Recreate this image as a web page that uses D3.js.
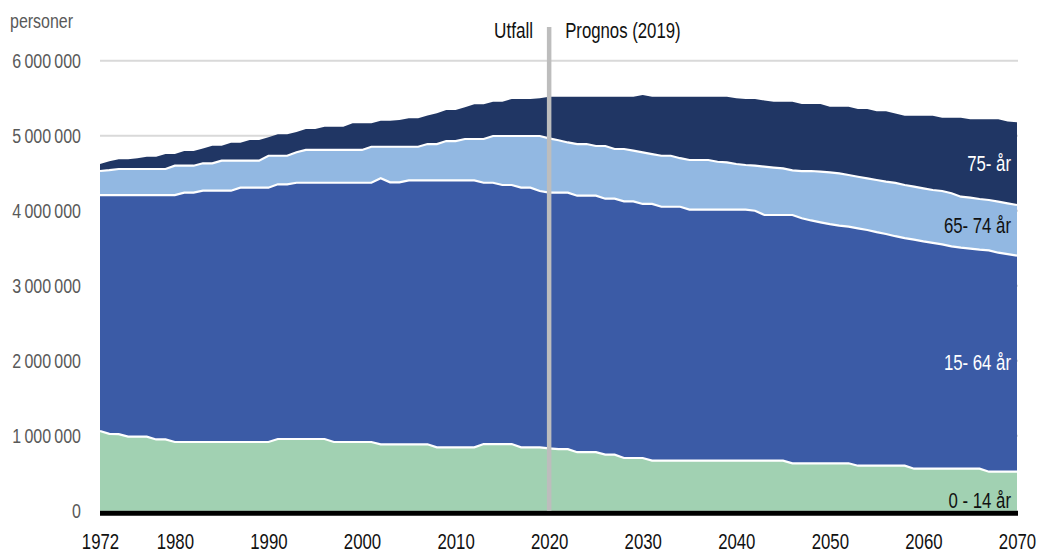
<!DOCTYPE html>
<html>
<head>
<meta charset="utf-8">
<script src="https://cdn.jsdelivr.net/npm/d3@7/dist/d3.min.js"></script>
<style>
  html, body { margin: 0; padding: 0; background: #ffffff; }
  svg { display: block; }
  text { font-family: "Liberation Sans", Arial, sans-serif; }
</style>
</head>
<body>
<svg id="chart" width="1042" height="553"></svg>
<script>
// Population by age group, 1972–2070 (thousands of persons)
const years = d3.range(1972, 2071);

const age0_14 = [
  1063, 1025, 1020, 987, 987, 987, 950, 950, 916, 916,
  916, 916, 916, 916, 916, 916, 916, 916, 916, 956,
  956, 956, 956, 956, 956, 916, 916, 916, 916, 916,
  885, 885, 885, 885, 885, 885, 845, 845, 845, 845,
  845, 889, 889, 889, 889, 845, 845, 845, 830, 820,
  820, 780, 780, 780, 747, 747, 703, 703, 703, 667,
  667, 667, 667, 667, 667, 667, 667, 667, 667, 667,
  667, 667, 667, 667, 632, 632, 632, 632, 632, 632,
  632, 600, 600, 600, 600, 600, 600, 560, 560, 560,
  560, 560, 560, 560, 560, 520, 520, 520, 520
];

const age15_64 = [
  3146, 3184, 3189, 3222, 3222, 3222, 3259, 3259, 3293, 3324,
  3324, 3351, 3351, 3351, 3351, 3391, 3391, 3391, 3391, 3396,
  3396, 3417, 3417, 3417, 3417, 3457, 3457, 3457, 3457, 3457,
  3547, 3493, 3493, 3520, 3520, 3520, 3560, 3560, 3560, 3560,
  3560, 3484, 3484, 3454, 3454, 3462, 3462, 3418, 3410, 3420,
  3420, 3420, 3420, 3420, 3413, 3413, 3422, 3422, 3387, 3423,
  3386, 3386, 3386, 3348, 3348, 3348, 3348, 3348, 3348, 3348,
  3333, 3276, 3276, 3276, 3311, 3268, 3238, 3213, 3188, 3168,
  3155, 3165, 3143, 3115, 3090, 3060, 3035, 3055, 3030, 3010,
  2990, 2965, 2947, 2935, 2920, 2950, 2920, 2900, 2880
];

const age65_74 = [
  320, 331, 347, 347, 347, 347, 347, 347, 391, 360,
  360, 365, 365, 400, 400, 360, 360, 360, 426, 381,
  381, 407, 437, 437, 437, 437, 437, 437, 437, 480,
  421, 475, 475, 448, 448, 484, 484, 524, 524, 551,
  551, 583, 623, 653, 653, 689, 689, 733, 725, 700,
  670, 689, 689, 663, 703, 663, 698, 675, 688, 665,
  680, 680, 647, 661, 661, 661, 638, 630, 608, 594,
  600, 644, 632, 622, 595, 629, 659, 675, 691, 698,
  689, 688, 689, 694, 697, 710, 708, 705, 708, 706,
  713, 707, 680, 680, 676, 673, 680, 678, 676
];

const age75plus = [
  94, 120, 129, 129, 144, 164, 164, 200, 156, 196,
  196, 198, 235, 200, 240, 240, 276, 276, 247, 285,
  285, 270, 279, 279, 310, 310, 310, 355, 355, 312,
  347, 347, 356, 379, 379, 381, 411, 414, 414, 424,
  462, 462, 457, 457, 493, 493, 493, 504, 555, 580,
  610, 631, 631, 657, 657, 697, 697, 720, 765, 765,
  787, 787, 820, 844, 844, 844, 867, 875, 877, 880,
  889, 883, 878, 888, 915, 894, 894, 903, 876, 889,
  911, 903, 924, 916, 938, 925, 924, 947, 969, 991,
  977, 1008, 1053, 1043, 1062, 1075, 1098, 1092, 1102
];

const seriesKeys = ["0-14", "15-64", "65-74", "75+"];
const seriesColors = ["#a1d1b2", "#3b5ba6", "#92b8e2", "#203664"];
const seriesLabels = ["0 - 14 år", "15- 64 år", "65- 74 år", "75- år"];
const labelColors = ["#111111", "#ffffff", "#111111", "#ffffff"];
const labelYear = 2070;

const yTicks = [0, 1000000, 2000000, 3000000, 4000000, 5000000, 6000000];
const xTicks = [1972, 1980, 1990, 2000, 2010, 2020, 2030, 2040, 2050, 2060, 2070];
const splitYear = 2020;

// Horizontal squeeze giving the narrow typeface look
const SQUEEZE = 0.78;

const rows = years.map((yr, i) => ({
  year: yr,
  "0-14": age0_14[i] * 1000,
  "15-64": age15_64[i] * 1000,
  "65-74": age65_74[i] * 1000,
  "75+": age75plus[i] * 1000
}));

const svg = d3.select("#chart");

const x = d3.scaleLinear().domain([1972, 2070]).range([100, 1017]);
const y = d3.scaleLinear().domain([0, 6000000]).range([510.7, 60.7]);

function label(parent, px, py, str, opts) {
  return parent.append("text")
    .attr("transform", `translate(${px},${py}) scale(${SQUEEZE},1)`)
    .attr("text-anchor", opts.anchor || "start")
    .attr("font-size", opts.size)
    .attr("fill", opts.fill)
    .text(str);
}

// Gridlines
svg.append("g")
  .selectAll("line")
  .data(yTicks.filter(d => d > 0))
  .join("line")
  .attr("x1", x(1972))
  .attr("x2", x(2070) + 1)
  .attr("y1", d => y(d))
  .attr("y2", d => y(d))
  .attr("stroke", "#d9d9d9")
  .attr("stroke-width", 2);

// Stacked areas
const stack = d3.stack().keys(seriesKeys);
const layers = stack(rows);

const area = d3.area()
  .x(d => x(d.data.year))
  .y0(d => y(d[0]))
  .y1(d => y(d[1]));

svg.append("g")
  .selectAll("path")
  .data(layers)
  .join("path")
  .attr("d", area)
  .attr("fill", (d, i) => seriesColors[i]);

// White separators between the layers
const boundary = d3.line()
  .x(d => x(d.data.year))
  .y(d => y(d[1]));

svg.append("g")
  .selectAll("path")
  .data(layers.slice(0, 3))
  .join("path")
  .attr("d", boundary)
  .attr("fill", "none")
  .attr("stroke", "#ffffff")
  .attr("stroke-width", 2.2);

// Baseline
svg.append("line")
  .attr("x1", x(1972))
  .attr("x2", x(2070) + 1)
  .attr("y1", y(0) + 2.5)
  .attr("y2", y(0) + 2.5)
  .attr("stroke", "#000000")
  .attr("stroke-width", 5);

// Divider between observed and projected values
svg.append("line")
  .attr("x1", x(splitYear))
  .attr("x2", x(splitYear))
  .attr("y1", 27)
  .attr("y2", y(0))
  .attr("stroke", "#bdbdbd")
  .attr("stroke-width", 4.5);

label(svg, x(splitYear) - 16, 38, "Utfall", { anchor: "end", size: 22, fill: "#111111" });
label(svg, x(splitYear) + 16, 38, "Prognos (2019)", { anchor: "start", size: 21.5, fill: "#111111" });

// Y axis
const fmt = d => d3.format(",")(d).replace(/,/g, "\u2009");
const yAxis = d3.axisLeft(y).tickValues(yTicks).tickSize(0).tickPadding(0).tickFormat(fmt);
const gy = svg.append("g").attr("transform", "translate(81,0)").call(yAxis);
gy.select(".domain").remove();
gy.selectAll("text")
  .attr("font-size", 20.5)
  .attr("fill", "#595959")
  .attr("font-family", null)
  .attr("transform", `scale(${SQUEEZE},1)`);

label(svg, 10, 28, "personer", { anchor: "start", size: 20.5, fill: "#595959" });

// X axis
const xAxis = d3.axisBottom(x).tickValues(xTicks).tickSize(0).tickPadding(0).tickFormat(d3.format("d"));
const gx = svg.append("g").attr("transform", "translate(0,534)").call(xAxis);
gx.select(".domain").remove();
gx.selectAll("text")
  .attr("font-size", 21.5)
  .attr("fill", "#111111")
  .attr("font-family", null)
  .attr("transform", `scale(${SQUEEZE},1)`);

// Series labels placed inside their layers
const labelY = [507.5, 370, 233, 171];
const gl = svg.append("g");
seriesLabels.forEach((s, i) => {
  label(gl, x(labelYear) - 6, labelY[i], s, { anchor: "end", size: 21.5, fill: labelColors[i] });
});
</script>
</body>
</html>
